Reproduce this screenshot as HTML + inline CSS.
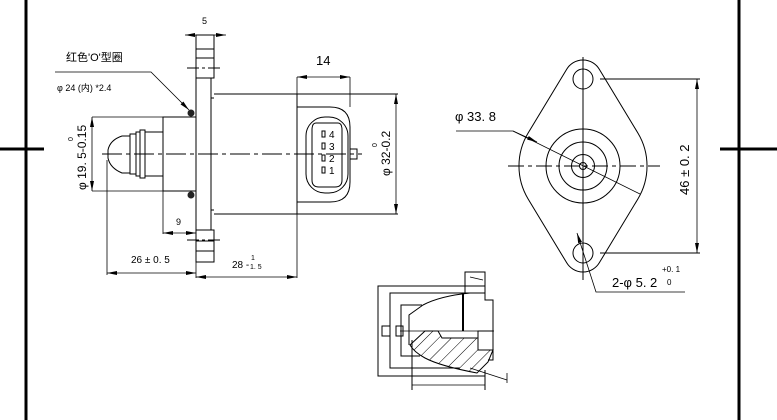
<!DOCTYPE html>
<html><head><meta charset="utf-8"><style>
html,body{margin:0;padding:0;background:#fff;}
svg{display:block;}
text{font-family:"Liberation Sans","Noto Sans CJK SC",sans-serif;fill:#000;}
</style></head><body>
<svg width="777" height="420" viewBox="0 0 777 420" xmlns="http://www.w3.org/2000/svg">
<defs>
<marker id="a" viewBox="0 0 10 4" refX="10" refY="2" markerWidth="10" markerHeight="4" orient="auto-start-reverse" markerUnits="userSpaceOnUse"><path d="M0,0 L10,2 L0,4z" fill="#000"/></marker>
<pattern id="h" width="9" height="9" patternUnits="userSpaceOnUse" patternTransform="rotate(45)"><line x1="0" y1="0" x2="0" y2="9" stroke="#000" stroke-width="1"/></pattern>
</defs>
<line x1="26" y1="0" x2="26" y2="420" stroke="#000" stroke-width="3"/>
<line x1="0" y1="149" x2="44" y2="149" stroke="#000" stroke-width="3"/>
<line x1="739" y1="0" x2="739" y2="420" stroke="#000" stroke-width="3"/>
<line x1="720" y1="149" x2="777" y2="149" stroke="#000" stroke-width="3"/>

<g fill="none" stroke="#000" stroke-width="1">
<path d="M196,35 V262 H214 V230 H211 V210 H214 M196,35 H214 V78 H211 V98 H214 M211,98 V210"/>
<line x1="196" y1="49" x2="214" y2="49"/><line x1="196" y1="58" x2="214" y2="58"/><line x1="196" y1="78" x2="214" y2="78"/>
<line x1="196" y1="230" x2="214" y2="230"/><line x1="196" y1="241" x2="214" y2="241"/><line x1="196" y1="251" x2="214" y2="251"/>
<line x1="187" y1="68" x2="220" y2="68" stroke-dasharray="12,3,3,3"/>
<line x1="187" y1="240" x2="220" y2="240" stroke-dasharray="12,3,3,3"/>
<line x1="214" y1="94" x2="398" y2="94"/>
<line x1="214" y1="214" x2="398" y2="214"/>
<line x1="297" y1="94" x2="297" y2="214"/>
<path d="M297,107 H330 Q350,107 350,127 V182 Q350,202 330,202 H297"/>
<rect x="306" y="117" width="42" height="76" rx="19"/>
<path d="M316,123 H338 Q342,123 342,130 V180 Q342,187 335,187 H319 Q312,187 312,180 V130 Q312,123 316,123 Z"/>
<rect x="350" y="149" width="7" height="10"/>
<rect x="322" y="131" width="3" height="6"/><rect x="322" y="143" width="3" height="6"/>
<rect x="322" y="155" width="3" height="6"/><rect x="322" y="167" width="3" height="6"/>
<rect x="163" y="117" width="33" height="74"/>
<rect x="145" y="132" width="18" height="44"/>
<rect x="140" y="130" width="5" height="48"/>
<rect x="136" y="132" width="4" height="44"/>
<rect x="130" y="134" width="6" height="40"/>
<path d="M130,136 H122 Q110,140 108,150 V158 Q110,168 122,173 H130"/>
<line x1="102" y1="154" x2="362" y2="154" stroke-dasharray="20,4,4,4"/>
</g>
<circle cx="191" cy="113" r="3.5" fill="#222"/><circle cx="191" cy="195" r="3.5" fill="#222"/>
<g font-size="10">
<text x="329" y="138">4</text><text x="329" y="150">3</text><text x="329" y="162">2</text><text x="329" y="174">1</text>
</g>

<g fill="none" stroke="#000" stroke-width="0.8">
<line x1="185" y1="35" x2="226" y2="35" marker-start="url(#a)" marker-end="url(#a)"/>
<line x1="297" y1="77" x2="350" y2="77" marker-start="url(#a)" marker-end="url(#a)"/>
<line x1="297" y1="77" x2="297" y2="94"/><line x1="350" y1="77" x2="350" y2="107"/>
<line x1="396" y1="94" x2="396" y2="214" marker-start="url(#a)" marker-end="url(#a)"/>
<line x1="92" y1="117" x2="163" y2="117"/><line x1="92" y1="191" x2="163" y2="191"/>
<line x1="92" y1="117" x2="92" y2="191" marker-start="url(#a)" marker-end="url(#a)"/>
<line x1="163" y1="191" x2="163" y2="234"/>
<line x1="163" y1="233" x2="196" y2="233" marker-start="url(#a)" marker-end="url(#a)"/>
<line x1="107" y1="160" x2="107" y2="275"/>
<line x1="107" y1="273" x2="196" y2="273" marker-start="url(#a)" marker-end="url(#a)"/>
<line x1="196" y1="262" x2="196" y2="278"/>
<line x1="297" y1="214" x2="297" y2="278"/>
<line x1="196" y1="277" x2="297" y2="277" marker-start="url(#a)" marker-end="url(#a)"/>
<path d="M55,72 H151 L189,110" marker-end="url(#a)"/>
</g>
<g font-size="11">
<text x="202" y="24" font-size="9">5</text>
<text x="316" y="65" font-size="13">14</text>
<text x="66" y="61">红色'O'型圈</text>
<text x="57" y="91" font-size="9">φ 24 (内) *2.4</text>
<text x="176" y="225" font-size="9">9</text>
<text x="131" y="263" font-size="10">26 ± 0. 5</text>
<text x="232" y="268" font-size="10">28 -</text><text x="251" y="260" font-size="7">1</text><text x="250" y="269" font-size="7">1. 5</text>
<text transform="translate(86,190) rotate(-90)" font-size="12">φ 19. 5-0.15</text>
<text transform="translate(73,141) rotate(-90)" font-size="7">0</text>
<text transform="translate(390,176) rotate(-90)" font-size="12">φ 32-0.2</text>
<text transform="translate(377,147) rotate(-90)" font-size="7">0</text>
</g>

<g fill="none" stroke="#000" stroke-width="1">
<path d="M528.2,132.9 L566.7,69.2 A19,19 0 0 1 599.3,69.2 L637.8,132.9 A64,64 0 0 1 637.8,199.1 L599.3,262.8 A19,19 0 0 1 566.7,262.8 L528.2,199.1 A64,64 0 0 1 528.2,132.9 Z"/>
<circle cx="583" cy="79" r="10"/><circle cx="583" cy="253" r="10"/>
<circle cx="583" cy="166" r="37"/><circle cx="583" cy="166" r="24"/><circle cx="583" cy="166" r="11.5"/><circle cx="583" cy="166" r="3.5"/>
<line x1="508" y1="166" x2="660" y2="166" stroke-dasharray="16,4,4,4"/>
<line x1="583" y1="57" x2="583" y2="280"/>
<line x1="600" y1="79" x2="700" y2="79"/><line x1="600" y1="253" x2="700" y2="253"/>
<line x1="697" y1="79" x2="697" y2="253" stroke-width="0.8" marker-start="url(#a)" marker-end="url(#a)"/>
<path d="M456,131 H513 L640,194" stroke-width="0.8"/>
<line x1="513" y1="131" x2="537" y2="142" marker-end="url(#a)" stroke-width="0.8"/>
<path d="M685,292 H596 L577,233" stroke-width="0.8" marker-end="url(#a)"/>
</g>
<text x="455" y="121" font-size="13">φ 33. 8</text>
<text transform="translate(689,195) rotate(-90)" font-size="13">46 ± 0. 2</text>
<text x="612" y="287" font-size="13">2-φ 5. 2</text>
<text x="662" y="272" font-size="8">+0. 1</text><text x="667" y="285" font-size="8">0</text>

<path d="M410,345 L425,331 H438 L442,338 H478 V350 H493 L488,362 L477,373 Q440,366 425,358 Q414,352 410,345 Z" fill="url(#h)" stroke="#000" stroke-width="1"/>
<g fill="none" stroke="#000" stroke-width="1">
<path d="M485,286 H378 V376 H485"/>
<path d="M465,293 H390 V368 H460"/>
<path d="M422,305 H401 V356 H420"/>
<rect x="465" y="272" width="20" height="21"/>
<path d="M485,286 V300 H493 V360 H488"/>
<rect x="478" y="331" width="15" height="19"/>
<rect x="382" y="326" width="8" height="10"/><rect x="396" y="326" width="7" height="10"/>
<path d="M485,293 H470 Q440,296 423,305 L409,315 V345"/>
<line x1="463" y1="293" x2="463" y2="331" stroke-width="2"/>
<line x1="412" y1="340" x2="412" y2="390"/><line x1="485" y1="370" x2="485" y2="390"/>
<line x1="412" y1="385" x2="485" y2="385" stroke-width="0.8"/>
<line x1="470" y1="368" x2="507" y2="380" stroke-width="0.8"/>
<line x1="507" y1="373" x2="507" y2="383" stroke-width="0.8"/>
<line x1="470" y1="277" x2="483" y2="280" stroke-width="0.8"/>
<line x1="400" y1="331" x2="494" y2="331" stroke-width="0.7"/>
</g>
</svg>
</body></html>
